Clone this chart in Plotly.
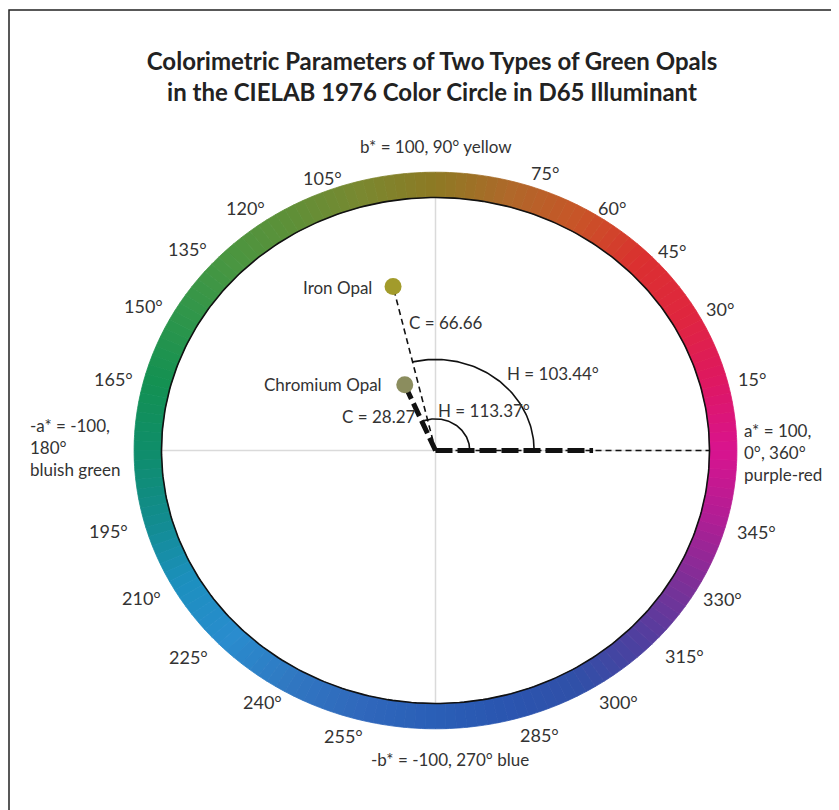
import numpy as np
import plotly.graph_objects as go

# ---- data ----
opal_names = ["Iron Opal", "Chromium Opal"]
opal_chroma = [66.66, 28.27]      # C*
opal_hue = [103.44, 113.37]       # h (degrees)
opal_colors = ["#a29b2b", "#8b8d5e"]

hue_stops = [0, 15, 30, 45, 60, 75, 90, 105, 120, 135, 150, 165, 180,
             195, 210, 225, 240, 255, 270, 285, 300, 315, 330, 345, 360]
hue_colors = ["#d9148f", "#de1862", "#e0263f", "#db3030", "#c95428", "#b0682a",
              "#8e7a24", "#7a8830", "#5f9038", "#4a9641", "#2f964b", "#149152",
              "#0f8e6a", "#128c8e", "#1d90c0", "#2a8cce", "#3178c2", "#3068bc",
              "#2a5fb7", "#2b55b0", "#3150a8", "#503f9f", "#7c3098", "#b01e95",
              "#d9148f"]

degree_labels = ["105°", "75°", "120°", "60°", "135°", "45°", "150°", "30°",
                 "165°", "15°", "195°", "345°", "210°", "330°", "225°", "315°",
                 "240°", "300°", "255°", "285°"]

# ---- page pixel <-> data mapping (a*, b* units; inner ring = 100) ----
OFF = 8                     # body margin of the html page
W, H = 839 - OFF, 810 - OFF
CX, CY = 435.5 - OFF, 450.5 - OFF
SX, SY = 2.74, 2.53


def px(x, y):
    return (x - OFF - CX) / SX, (CY - (y - OFF)) / SY


def hex_to_rgb(h):
    return [int(h[i:i + 2], 16) for i in (1, 3, 5)]


def hue_color(deg):
    rgbs = np.array([hex_to_rgb(c) for c in hue_colors], dtype=float)
    r = np.interp(deg, hue_stops, rgbs[:, 0])
    g = np.interp(deg, hue_stops, rgbs[:, 1])
    b = np.interp(deg, hue_stops, rgbs[:, 2])
    return "rgb(%d,%d,%d)" % (r, g, b)


fig = go.Figure()
shapes = []

# colour ring
R_IN, R_OUT = 100, 110
step = 2
for start in range(0, 360, step):
    t = np.radians(np.linspace(start, start + step, 4))
    xs = np.concatenate([R_OUT * np.cos(t), R_IN * np.cos(t[::-1])])
    ys = np.concatenate([R_OUT * np.sin(t), R_IN * np.sin(t[::-1])])
    path = "M " + " L ".join("%.3f,%.3f" % (a, b) for a, b in zip(xs, ys)) + " Z"
    col = hue_color(start + step / 2)
    shapes.append(dict(type="path", path=path, xref="x", yref="y", fillcolor=col,
                       line=dict(color=col, width=0.8), layer="below"))

# light grey axes
shapes.append(dict(type="line", x0=-R_IN, y0=0, x1=R_IN, y1=0, xref="x", yref="y",
                   line=dict(color="#dadada", width=1.5), layer="below"))
shapes.append(dict(type="line", x0=0, y0=-R_IN, x1=0, y1=R_IN, xref="x", yref="y",
                   line=dict(color="#dadada", width=1.5), layer="below"))

# frame (left/top edges visible)
shapes.append(dict(type="rect", xref="paper", yref="paper", x0=1 / W, x1=1.02,
                   y0=-0.02, y1=1 - 2 / H, line=dict(color="#222222", width=1.5)))

# inner black circle
t = np.radians(np.linspace(0, 360, 361))
fig.add_trace(go.Scatter(x=R_IN * np.cos(t), y=R_IN * np.sin(t), mode="lines",
                         line=dict(color="#111111", width=1.6), hoverinfo="skip"))

# reference a* axis dashes
fig.add_trace(go.Scatter(x=[0, R_IN], y=[0, 0], mode="lines",
                         line=dict(color="#111111", width=1.6, dash="6px,4px"), hoverinfo="skip"))
fig.add_trace(go.Scatter(x=[0, 57.5], y=[0, 0], mode="lines",
                         line=dict(color="#111111", width=5, dash="17px,5px"), hoverinfo="skip"))

arc_radius = [36, 12.5]
line_width = [1.6, 5]
line_dash = ["6px,4px", "14px,5px"]
for name, c, h, col, ar, lw, ld in zip(opal_names, opal_chroma, opal_hue, opal_colors,
                                       arc_radius, line_width, line_dash):
    a = c * np.cos(np.radians(h))
    b = c * np.sin(np.radians(h))
    # chroma line
    fig.add_trace(go.Scatter(x=[0, a], y=[0, b], mode="lines",
                             line=dict(color="#111111", width=lw, dash=ld), hoverinfo="skip"))
    # hue arc
    th = np.radians(np.linspace(0, h, 80))
    fig.add_trace(go.Scatter(x=ar * np.cos(th), y=ar * np.sin(th), mode="lines",
                             line=dict(color="#111111", width=1.6), hoverinfo="skip"))
    # point
    fig.add_trace(go.Scatter(x=[a], y=[b], mode="markers", name=name,
                             marker=dict(size=17, color=col)))

# ---- text ----
FAMILY = "Lato, 'Open Sans', sans-serif"
font = dict(family=FAMILY, size=17, color="#333333")
ann = []


def add_text(text, x, y, xanchor="center", align="center", size=17):
    dx, dy = px(x, y)
    ann.append(dict(text=text, x=dx, y=dy, xref="x", yref="y", showarrow=False,
                    xanchor=xanchor, yanchor="middle", align=align,
                    font=dict(font, size=size)))


label_pos = [(322, 178), (545, 173), (245, 208), (612, 208), (187, 249), (672, 251),
             (143, 306), (720, 309), (113, 379), (752, 379), (108, 531), (756, 532),
             (141, 598), (722, 599), (188, 657), (684, 656), (262, 702), (618, 702),
             (343, 736), (539, 735)]
for lab, (x, y) in zip(degree_labels, label_pos):
    add_text(lab, x, y, size=18)

add_text("b* = 100, 90° yellow", 436, 146)
add_text("-b* = -100, 270° blue", 450, 759)
add_text("-a* = -100,<br>180°<br>bluish green", 28, 447, xanchor="left", align="left")
add_text("a* = 100,<br>0°, 360°<br>purple-red", 742, 452, xanchor="left", align="left")
add_text(opal_names[0], 374, 287, xanchor="right")
add_text(opal_names[1], 384, 384, xanchor="right")
add_text("C = %.2f" % opal_chroma[0], 407, 322, xanchor="left")
add_text("C = %.2f" % opal_chroma[1], 418, 416, xanchor="right")
add_text("H = %.2f°" % opal_hue[0], 505, 373, xanchor="left")
add_text("H = %.2f°" % opal_hue[1], 436, 410, xanchor="left")

fig.update_layout(
    width=W, height=H,
    margin=dict(l=0, r=0, t=0, b=0),
    paper_bgcolor="white", plot_bgcolor="white",
    showlegend=False,
    title=dict(text="<b>Colorimetric Parameters of Two Types of Green Opals<br>"
                    "in the CIELAB 1976 Color Circle in D65 Illuminant</b>",
               x=(432 - OFF) / W, xanchor="center", y=1 - (70 - OFF) / H, yanchor="middle",
               font=dict(family=FAMILY, size=24, color="#222222")),
    xaxis=dict(range=[-CX / SX, (W - CX) / SX], visible=False, fixedrange=True),
    yaxis=dict(range=[-(H - CY) / SY, CY / SY], visible=False, fixedrange=True),
    shapes=shapes,
    annotations=ann,
)

fig.write_html("out.html")
